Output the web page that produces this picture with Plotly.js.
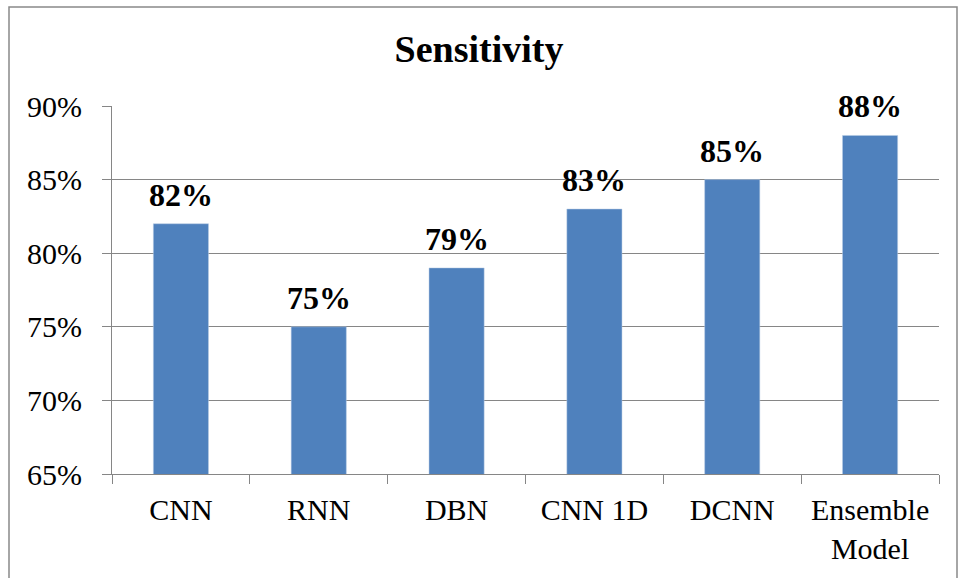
<!DOCTYPE html>
<html>
<head>
<meta charset="utf-8">
<script src="https://cdn.plot.ly/plotly-3.0.1.min.js"></script>
<style>
  html, body { margin: 0; padding: 0; background: #fff; }
  #chart { width: 958px; height: 578px; }
</style>
</head>
<body>
<div id="chart"></div>
<script>
const categories = ["CNN", "RNN", "DBN", "CNN 1D", "DCNN", "Ensemble<br>Model"];
const sensitivity = [0.82, 0.75, 0.79, 0.83, 0.85, 0.88];
const titleText = "Sensitivity";

const FONT = "Liberation Serif";
const GRID = "#868686";

const trace = {
  type: "bar",
  x: categories,
  y: sensitivity,
  marker: { color: "#4F81BD", line: { color: "#B9CDE5", width: 0.5 } },
  cliponaxis: false,
  hoverinfo: "skip"
};

const labels = categories.map((c, i) => ({
  x: c,
  y: sensitivity[i],
  xref: "x",
  yref: "y",
  text: "<b>" + Math.round(sensitivity[i] * 100) + "%</b>",
  showarrow: false,
  yanchor: "bottom",
  yshift: 9,
  font: { family: FONT, size: 32, color: "#000000" }
}));

const layout = {
  width: 958,
  height: 578,
  margin: { l: 112, r: 19, t: 106, b: 104 },
  paper_bgcolor: "#ffffff",
  plot_bgcolor: "#ffffff",
  showlegend: false,
  bargap: 0.6,
  font: { family: FONT },
  title: {
    text: "<b>" + titleText + "</b>",
    font: { family: FONT, size: 38, color: "#000000" },
    x: 0.5,
    xanchor: "center",
    y: 1 - 49 / 578,
    yanchor: "middle"
  },
  xaxis: {
    type: "category",
    tickson: "boundaries",
    ticks: "outside",
    ticklen: 9,
    tickcolor: GRID,
    showline: true,
    linecolor: GRID,
    linewidth: 1,
    showgrid: false,
    tickfont: { family: FONT, size: 30, color: "#000000" },
    ticklabelstandoff: 9
  },
  yaxis: {
    range: [0.65, 0.9],
    dtick: 0.05,
    tick0: 0.65,
    tickformat: ".0%",
    ticks: "outside",
    ticklen: 9,
    tickcolor: GRID,
    showline: true,
    linecolor: GRID,
    linewidth: 1,
    showgrid: true,
    gridcolor: GRID,
    gridwidth: 1,
    zeroline: false,
    tickfont: { family: FONT, size: 30, color: "#000000" },
    ticklabelstandoff: 14
  },
  annotations: labels,
  shapes: [
    {
      type: "rect", xref: "paper", yref: "paper", layer: "below",
      x0: (9 - 112) / 827, x1: (957 - 112) / 827,
      y0: (474 - 590) / 368, y1: (474 - 7) / 368,
      line: { color: "#898989", width: 1.5 },
      fillcolor: "rgba(0,0,0,0)"
    }
  ]
};

Plotly.newPlot("chart", [trace], layout, { displayModeBar: false, staticPlot: true });
</script>
</body>
</html>
